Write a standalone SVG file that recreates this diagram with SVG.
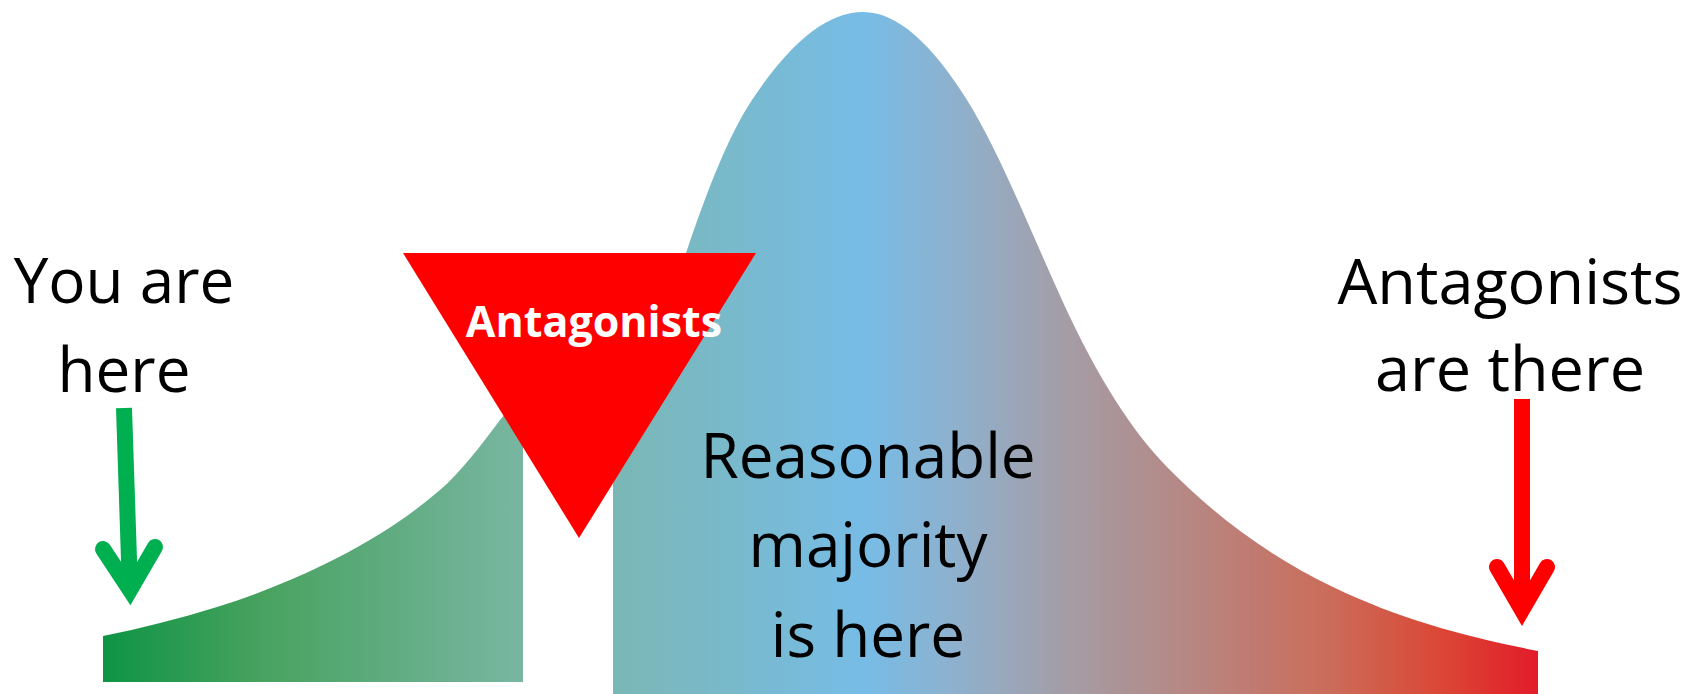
<svg xmlns="http://www.w3.org/2000/svg" width="1701" height="694" viewBox="0 0 1701 694">
  <style>
    .lbl { font-family: "Open Sans", "Liberation Sans", sans-serif; font-size: 62px; fill: #000000; text-anchor: middle; }
    .tri-lbl { font-family: "Open Sans", "Liberation Sans", sans-serif; font-size: 43px; font-weight: bold; fill: #ffffff; text-anchor: middle; }
    .arrow { fill: none; stroke-width: 16; }
    .shaft { stroke-linecap: butt; }
    .head { stroke-linecap: round; stroke-linejoin: miter; stroke-miterlimit: 6; }
  </style>
  <defs>
    <linearGradient id="bellGrad" gradientUnits="userSpaceOnUse" x1="103" y1="0" x2="1538" y2="0">
      <stop offset="0" stop-color="#0e9444"/>
      <stop offset="0.109" stop-color="#47a25f"/>
      <stop offset="0.293" stop-color="#79b6a2"/>
      <stop offset="0.355" stop-color="#7ab7b4"/>
      <stop offset="0.530" stop-color="#77bce6"/>
      <stop offset="0.597" stop-color="#8fb0cc"/>
      <stop offset="0.667" stop-color="#a39ea8"/>
      <stop offset="0.764" stop-color="#b88580"/>
      <stop offset="0.855" stop-color="#cb6c5a"/>
      <stop offset="0.932" stop-color="#db4735"/>
      <stop offset="1" stop-color="#e21c2a"/>
    </linearGradient>
    <path id="bellShape" d="M103,636 C141,628.4 179,618.8 217,607 C253,595.8 289,581.6 325,564 C363.3,545.2 401.7,523 440,490 C460,472.8 480,446.8 500,420 C540,366.4 656,352 686,253 C708,187 730,133 752,100 C789,44.5 826,12 863,12 C897.7,12 932.3,44.5 967,100 C998.7,150.7 1030.3,230.3 1062,300 C1097,377 1132,431.3 1167,467 C1222.3,523.4 1277.7,560.3 1333,587 C1401.3,620 1469.7,637.7 1538,651 L1538,694 L103,694 Z"/>
    <clipPath id="clipLeft"><rect x="103" y="0" width="420" height="682"/></clipPath>
    <clipPath id="clipRight"><rect x="613" y="0" width="925" height="694"/></clipPath>
  </defs>
  <rect x="0" y="0" width="1701" height="694" fill="#ffffff"/>
  <g id="bell-left">
    <use href="#bellShape" fill="url(#bellGrad)" clip-path="url(#clipLeft)"/>
  </g>
  <g id="bell-right">
    <use href="#bellShape" fill="url(#bellGrad)" clip-path="url(#clipRight)"/>
  </g>
  <g id="antagonists-triangle">
    <polygon points="403,253 756,253 579,538" fill="#ff0000"/>
    <text class="tri-lbl" x="594" y="337">Antagonists</text>
  </g>
  <g id="you-are-here">
    <text class="lbl" x="124" y="303">You are</text>
    <text class="lbl" x="124" y="392">here</text>
  </g>
  <g id="antagonists-there">
    <text class="lbl" x="1510" y="304" style="font-size:63px">Antagonists</text>
    <text class="lbl" x="1510" y="391" style="font-size:63px">are there</text>
  </g>
  <g id="reasonable-majority">
    <text class="lbl" x="868" y="478">Reasonable</text>
    <text class="lbl" x="868" y="567">majority</text>
    <text class="lbl" x="868" y="657">is here</text>
  </g>
  <g id="connectors">
    <g id="green-arrow" stroke="#00b050">
      <line class="arrow shaft" x1="124" y1="408" x2="130" y2="590"/>
      <polyline class="arrow head" points="103,549 130,590 155,547"/>
    </g>
    <g id="red-arrow" stroke="#ff0000">
      <line class="arrow shaft" x1="1522" y1="399" x2="1522" y2="610"/>
      <polyline class="arrow head" points="1497,567 1522,610 1547,567"/>
    </g>
  </g>
</svg>
